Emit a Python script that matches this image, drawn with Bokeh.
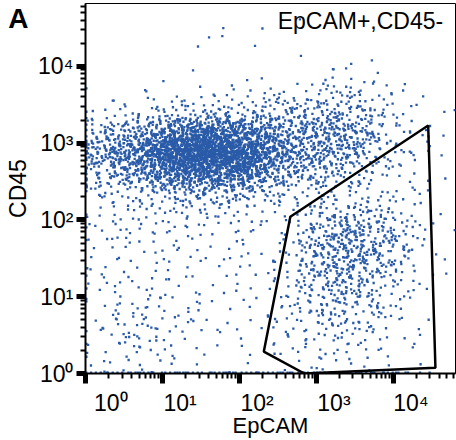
from bokeh.plotting import figure
from bokeh.models import (FixedTicker, LogAxis, Range1d, Label, ColumnDataSource,
                          CustomJSTickFormatter)
from bokeh.embed import file_html
from bokeh.resources import INLINE

# ---------------- data ----------------
decades = [0, 1, 2, 3, 4]
tick_labels = ["10⁰", "10¹", "10²", "10³", "10⁴"]
x_title = "EpCAM"
y_title = "CD45"
gate_name = "EpCAM+,CD45-"
panel_letter = "A"

# gate polygon (EpCAM, CD45)
gate_epcam = [460, 28500, 35400, 700, 208]
gate_cd45 = [110, 1700, 1.19, 1.0, 1.93]

# event counts per 0.25-decade cell (rows: CD45 10^4.5-10^4.75 at top ... 10^0-10^0.25 at bottom;
# columns: EpCAM 10^0-10^0.25 ... 10^4.5-10^4.75)
cell_counts = [
    [0, 0, 0, 0, 0, 0, 0, 0, 0, 1, 0, 1, 0, 0, 0, 0, 0, 0, 0],
    [0, 0, 0, 0, 0, 1, 1, 2, 1, 0, 0, 0, 0, 0, 0, 0, 0, 0, 0],
    [0, 0, 0, 0, 0, 0, 0, 0, 0, 0, 0, 1, 1, 0, 0, 1, 0, 0, 0],
    [0, 0, 0, 0, 0, 1, 0, 0, 0, 1, 0, 0, 1, 4, 3, 0, 1, 0, 0],
    [0, 1, 1, 2, 2, 3, 3, 4, 4, 5, 6, 8, 10, 12, 8, 5, 2, 1, 1],
    [4, 6, 8, 10, 12, 14, 16, 16, 18, 20, 22, 24, 26, 24, 18, 9, 4, 2, 1],
    [14, 28, 40, 58, 95, 125, 130, 112, 92, 68, 45, 42, 44, 40, 28, 12, 6, 3, 2],
    [35, 55, 78, 130, 205, 240, 240, 210, 165, 105, 55, 45, 40, 34, 22, 10, 5, 3, 2],
    [20, 32, 42, 62, 105, 130, 125, 112, 92, 58, 30, 24, 20, 16, 11, 6, 3, 2, 1],
    [7, 9, 11, 14, 20, 26, 28, 26, 20, 14, 9, 8, 9, 7, 6, 4, 2, 2, 1],
    [4, 5, 6, 6, 7, 7, 6, 6, 5, 5, 5, 8, 14, 16, 14, 10, 6, 3, 1],
    [3, 4, 4, 4, 5, 4, 4, 3, 3, 3, 4, 12, 25, 32, 28, 20, 12, 4, 1],
    [2, 4, 3, 3, 3, 3, 3, 3, 2, 2, 5, 16, 30, 38, 32, 22, 12, 4, 1],
    [3, 3, 3, 3, 3, 3, 2, 2, 3, 3, 5, 15, 28, 32, 26, 18, 8, 3, 1],
    [2, 4, 4, 3, 3, 2, 2, 2, 2, 2, 6, 14, 20, 22, 16, 10, 4, 2, 0],
    [2, 5, 6, 4, 4, 3, 2, 2, 2, 3, 6, 10, 14, 14, 12, 8, 4, 1, 0],
    [2, 6, 8, 6, 6, 4, 2, 2, 2, 2, 5, 8, 10, 10, 8, 6, 3, 1, 0],
    [2, 5, 6, 5, 4, 2, 1, 1, 2, 2, 3, 5, 6, 6, 5, 3, 2, 1, 0],
    [2, 3, 3, 3, 2, 1, 1, 1, 1, 1, 1, 3, 3, 3, 3, 2, 1, 0, 0],
]
# events piled on the lower edge (CD45 <= 1), per EpCAM column
pile_bottom = [4, 5, 5, 5, 5, 5, 5, 5, 5, 5, 5, 5, 6, 6, 6, 5, 4, 2, 0]
# events piled on the left edge (EpCAM <= 1), per CD45 row (top -> bottom)
pile_left = [0, 0, 0, 0, 1, 2, 4, 6, 4, 2, 1, 1, 1, 1, 1, 1, 1, 1, 1]

# ---------------- place events inside their cells (Halton offsets) ----------------
CELL = 0.25
XMAX, YMAX = 4.81, 4.82


def halton(i, b):
    f, r = 1.0, 0.0
    while i > 0:
        f /= b
        r += f * (i % b)
        i //= b
    return r


xs, ys = [], []
n = 0
nrows = len(cell_counts)
for r, row in enumerate(cell_counts):
    j = nrows - 1 - r
    for k, c in enumerate(row):
        for _ in range(c):
            n += 1
            u = halton(n, 2) + halton(n, 5) - 0.5
            v = halton(n, 3) + halton(n, 7) - 0.5
            lx = CELL * (k + u)
            ly = CELL * (j + v)
            lx = -lx + 0.01 if lx < 0 else lx
            ly = -ly + 0.01 if ly < 0 else ly
            xs.append(10 ** min(lx, XMAX - 0.01))
            ys.append(10 ** min(ly, YMAX - 0.01))

for k, c in enumerate(pile_bottom):
    for _ in range(c):
        n += 1
        xs.append(10 ** (CELL * (k + halton(n, 2))))
        ys.append(10 ** 0.012)

for r, c in enumerate(pile_left):
    j = nrows - 1 - r
    for _ in range(c):
        n += 1
        xs.append(10 ** 0.012)
        ys.append(10 ** (CELL * (j + halton(n, 3))))

src = ColumnDataSource(dict(x=xs, y=ys))

# ---------------- figure ----------------
p = figure(width=456, height=440, x_axis_type="log", y_axis_type="log",
           x_range=Range1d(1, 10 ** XMAX), y_range=Range1d(1, 10 ** YMAX),
           output_backend="svg", toolbar_location=None,
           min_border_left=85, min_border_right=1, min_border_top=3,
           min_border_bottom=67)
p.grid.visible = False
p.outline_line_color = "black"
p.outline_line_width = 1
p.background_fill_color = "white"
p.border_fill_color = "white"

p.scatter("x", "y", source=src, marker="square", size=2.3,
          fill_color="#2a5ba8", line_color=None)

p.patch(gate_epcam, gate_cd45, fill_color=None, line_color="black", line_width=2.5)

minor_vals = [m * 10 ** d for d in decades for m in range(2, 10)]
major_vals = [10 ** d for d in decades]
FONT = "Liberation Sans"
INK = "black"

# y axis
ya = p.yaxis[0]
ya.ticker = FixedTicker(ticks=major_vals, minor_ticks=minor_vals)
ya.formatter = CustomJSTickFormatter(args=dict(labels=tick_labels),
                                     code="return labels[Math.round(Math.log10(tick))];")
ya.axis_label = y_title
ya.axis_label_text_font = FONT
ya.axis_label_text_font_size = "23px"
ya.axis_label_text_font_style = "normal"
ya.axis_label_text_color = INK
ya.axis_label_standoff = 4
ya.major_label_text_font = FONT
ya.major_label_text_font_size = "23px"
ya.major_label_text_color = INK
ya.major_label_standoff = 3
ya.major_tick_out = 9
ya.major_tick_in = 0
ya.major_tick_line_width = 5
ya.major_tick_line_color = INK
ya.minor_tick_out = 5
ya.minor_tick_in = 0
ya.minor_tick_line_width = 2
ya.minor_tick_line_color = INK
ya.axis_line_width = 2
ya.axis_line_color = INK

# panel letter, carried by an outer left axis with a single label
pa = LogAxis(ticker=FixedTicker(ticks=[10 ** (YMAX - 0.19)], minor_ticks=[]),
             formatter=CustomJSTickFormatter(args=dict(t=panel_letter), code="return t;"))
pa.axis_line_color = None
pa.major_tick_line_color = None
pa.minor_tick_line_color = None
pa.major_tick_out = 0
pa.major_tick_in = 0
pa.minor_tick_out = 0
pa.minor_tick_in = 0
pa.major_label_standoff = -26
pa.major_label_text_font = FONT
pa.major_label_text_font_size = "28px"
pa.major_label_text_font_style = "bold"
pa.major_label_text_color = INK
p.add_layout(pa, "left")

# x axis: tick marks only
xa = p.xaxis[0]
xa.ticker = FixedTicker(ticks=major_vals, minor_ticks=minor_vals)
xa.formatter = CustomJSTickFormatter(code="return '';")
xa.major_label_standoff = 0
xa.major_label_text_font_size = "1px"
xa.major_tick_out = 10
xa.major_tick_in = 0
xa.major_tick_line_width = 5
xa.major_tick_line_color = INK
xa.minor_tick_out = 5
xa.minor_tick_in = 0
xa.minor_tick_line_width = 2
xa.minor_tick_line_color = INK
xa.axis_line_width = 2
xa.axis_line_color = INK

# x axis: labels (set to the right of each decade tick as in the original)
label_ticks = [10 ** (d + (0.33 if d == 0 else 0.23)) for d in decades]
xl = LogAxis(ticker=FixedTicker(ticks=label_ticks, minor_ticks=[]),
             formatter=CustomJSTickFormatter(args=dict(labels=tick_labels),
                                             code="return labels[index];"))
xl.axis_line_color = None
xl.major_tick_line_color = None
xl.minor_tick_line_color = None
xl.major_tick_out = 0
xl.major_tick_in = 0
xl.minor_tick_out = 0
xl.minor_tick_in = 0
xl.major_label_standoff = 6
xl.major_label_text_font = FONT
xl.major_label_text_font_size = "23px"
xl.major_label_text_color = INK
xl.axis_label = x_title
xl.axis_label_text_font = FONT
xl.axis_label_text_font_size = "22px"
xl.axis_label_text_font_style = "normal"
xl.axis_label_text_color = INK
xl.axis_label_standoff = -6
p.add_layout(xl, "below")

# gate name
p.add_layout(Label(x=10 ** 4.65, y=10 ** 4.755, text=gate_name, text_align="right",
                   text_baseline="top", text_font=FONT, text_font_size="23px",
                   text_color=INK))

open("out.html", "w").write(file_html(p, INLINE))
